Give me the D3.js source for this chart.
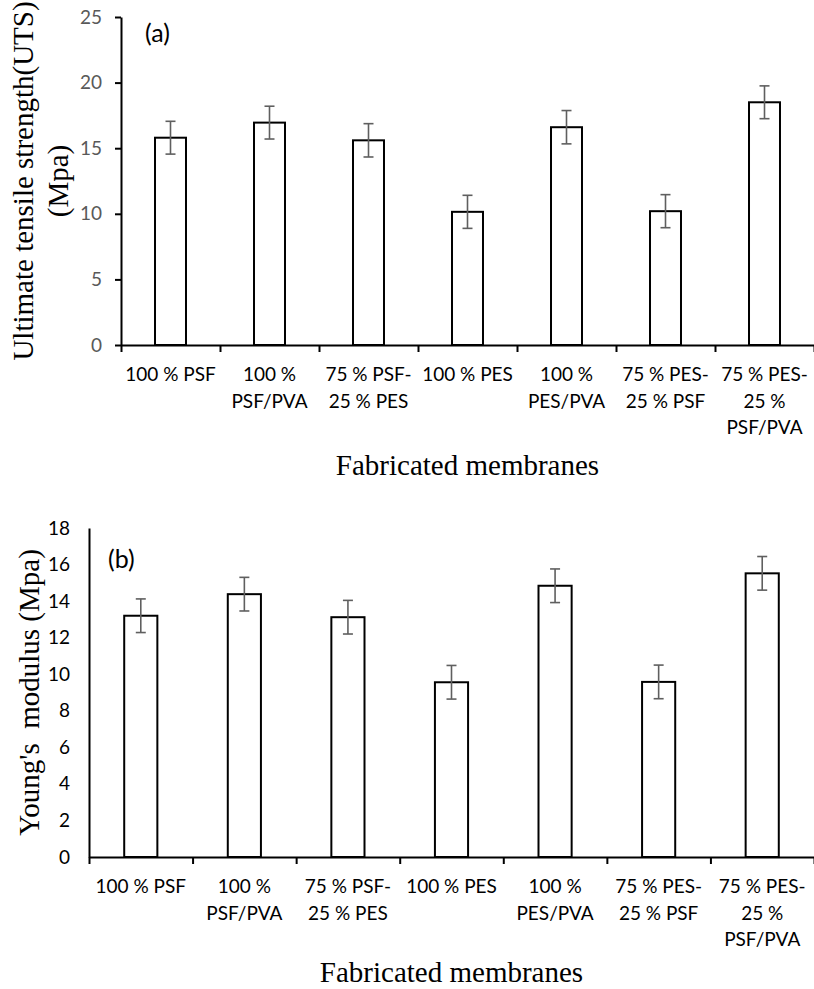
<!DOCTYPE html>
<html>
<head>
<meta charset="utf-8">
<script src="https://cdn.jsdelivr.net/npm/d3@7"></script>
<style>
  body { margin: 0; background: #fff; }
  svg { display: block; }
</style>
</head>
<body>
<script>
// membranes, each label split the way the figure wraps it
const categories = ['100 % PSF', '100 % PSF/PVA', '75 % PSF-25 % PES', '100 % PES',
                    '100 % PES/PVA', '75 % PES-25 % PSF', '75 % PES-25 % PSF/PVA']
const categoryLines = [['100 % PSF'], ['100 %', 'PSF/PVA'], ['75 % PSF-', '25 % PES'], ['100 % PES'],
                       ['100 %', 'PES/PVA'], ['75 % PES-', '25 % PSF'], ['75 % PES-', '25 %', 'PSF/PVA']]

// (a) ultimate tensile strength
const utsValues = [15.8, 16.95, 15.6, 10.15, 16.6, 10.2, 18.5]
const utsErrors = [1.25, 1.25, 1.27, 1.26, 1.27, 1.26, 1.25]
const utsTicks = [0, 5, 10, 15, 20, 25]

// (b) young's modulus
const ymValues = [13.2, 14.38, 13.12, 9.56, 14.84, 9.58, 15.52]
const ymErrors = [0.92, 0.92, 0.92, 0.92, 0.92, 0.92, 0.92]
const ymTicks = [0, 2, 4, 6, 8, 10, 12, 14, 16, 18]

const width = 814
const height = 989

const svg = d3.select('body')
  .append('svg')
  .attr('width', width)
  .attr('height', height)

function drawPanel(opt) {
  const g = svg.append('g')

  const y = d3.scaleLinear()
    .domain([0, d3.max(opt.ticks)])
    .range([opt.bottom, opt.top])

  const x = d3.scaleBand()
    .domain(categories)
    .range([opt.left, opt.right])

  const edges = d3.scaleLinear()
    .domain([0, categories.length])
    .range([opt.left, opt.right])

  // y axis
  const yAxis = g.append('g')
    .attr('transform', 'translate(' + opt.left + ',0)')
    .call(d3.axisLeft(y).tickValues(opt.ticks).tickSizeInner(opt.yTick).tickSizeOuter(0).tickPadding(opt.yPad))
  yAxis.select('.domain').attr('stroke', '#000').attr('stroke-width', 2)
  yAxis.selectAll('.tick line').attr('stroke', '#000').attr('stroke-width', 2)
  yAxis.selectAll('.tick text')
    .attr('fill', opt.yColor)
    .style('font-family', 'Lato, sans-serif')
    .style('font-size', '19px')

  // bars
  const bw = x.bandwidth() * opt.barRatio
  g.selectAll('rect.bar')
    .data(opt.values)
    .enter()
    .append('rect')
    .attr('class', 'bar')
    .attr('x', (d, i) => x(categories[i]) + (x.bandwidth() - bw) / 2)
    .attr('y', d => y(d))
    .attr('width', bw)
    .attr('height', d => y(0) - y(d))
    .attr('fill', '#fff')
    .attr('stroke', '#000')
    .attr('stroke-width', 2)

  // x axis with ticks between the bars
  const xAxis = g.append('g')
    .attr('transform', 'translate(0,' + opt.bottom + ')')
    .call(d3.axisBottom(edges).tickValues(d3.range(categories.length + 1)).tickFormat('').tickSizeInner(7).tickSizeOuter(0))
  xAxis.select('.domain').attr('stroke', '#000').attr('stroke-width', 2)
  xAxis.selectAll('.tick line').attr('stroke', '#000').attr('stroke-width', 2)

  // error bars
  const err = g.append('g')
  opt.values.forEach(function(v, i) {
    const cx = x(categories[i]) + x.bandwidth() / 2
    const hi = y(v + opt.errors[i])
    const lo = y(v - opt.errors[i])
    err.append('line').attr('x1', cx).attr('x2', cx).attr('y1', hi).attr('y2', lo)
    err.append('line').attr('x1', cx - 5).attr('x2', cx + 5).attr('y1', hi).attr('y2', hi)
    err.append('line').attr('x1', cx - 5).attr('x2', cx + 5).attr('y1', lo).attr('y2', lo)
  })
  err.selectAll('line').attr('stroke', '#5f5f5f').attr('stroke-width', 1.6)

  // category labels
  const labels = g.append('g')
  categoryLines.forEach(function(lines, i) {
    const t = labels.append('text')
      .attr('x', x(categories[i]) + x.bandwidth() / 2)
      .attr('y', opt.bottom + 36)
      .attr('text-anchor', 'middle')
      .style('font-family', 'Lato, sans-serif')
      .style('font-size', '19px')
      .attr('fill', '#000')
    lines.forEach(function(s, j) {
      t.append('tspan')
        .attr('x', x(categories[i]) + x.bandwidth() / 2)
        .attr('dy', j === 0 ? 0 : 26.5)
        .text(s)
    })
  })

  // axis titles
  g.append('text')
    .attr('x', (opt.left + opt.right) / 2)
    .attr('y', opt.xTitleY)
    .attr('text-anchor', 'middle')
    .style('font-family', '"Liberation Serif", "Times New Roman", serif')
    .style('font-size', '29px')
    .text('Fabricated membranes')

  const cy = (opt.top + opt.bottom) / 2
  opt.yTitle.forEach(function(s, j) {
    g.append('text')
      .attr('transform', 'translate(' + opt.yTitleX[j] + ',' + cy + ') rotate(-90)')
      .attr('text-anchor', 'middle')
      .style('font-family', '"Liberation Serif", "Times New Roman", serif')
      .style('font-size', '29px')
      .style('white-space', 'pre')
      .text(s)
  })

  // panel letter
  g.append('text')
    .attr('x', opt.tagX)
    .attr('y', opt.tagY)
    .style('font-family', 'Lato, sans-serif')
    .style('font-size', '25px')
    .text(opt.tag)
}

drawPanel({
  values: utsValues, errors: utsErrors, ticks: utsTicks,
  left: 121, right: 814, top: 17, bottom: 345,
  yTick: 6, yPad: 13, yColor: '#595959', barRatio: 0.313,
  xTitleY: 475, yTitle: ['Ultimate tensile strength(UTS)', '(Mpa)'], yTitleX: [33, 68],
  tag: '(a)', tagX: 145, tagY: 42
})

drawPanel({
  values: ymValues, errors: ymErrors, ticks: ymTicks,
  left: 89, right: 814, top: 528, bottom: 857,
  yTick: 0, yPad: 19, yColor: '#000', barRatio: 0.32,
  xTitleY: 982, yTitle: ["Young's  modulus (Mpa)"], yTitleX: [39],
  tag: '(b)', tagX: 108, tagY: 568
})
</script>
</body>
</html>
